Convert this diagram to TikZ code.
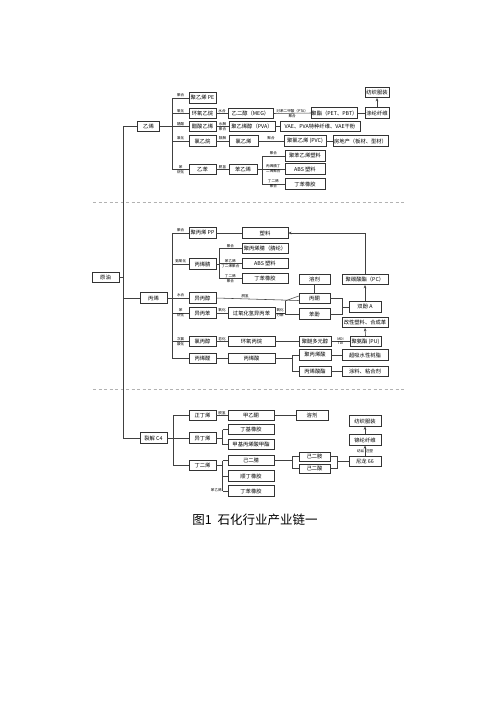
\documentclass[tikz,border=0pt]{standalone}
\usepackage{fontspec}
\setmainfont{Noto Sans CJK SC}
\usetikzlibrary{arrows.meta}
\newcommand\bxn[5]{\node[bx,minimum width=#4pt] (#1) at (#2,#3) {#5};}
\begin{document}
\begin{tikzpicture}[x=1pt,y=-1pt,
  bx/.style={draw=black!80, line width=0.55pt, minimum height=10.5pt, inner sep=0pt, font=\fontsize{5.3}{6}\selectfont, fill=white},
  lbl/.style={font=\fontsize{3.6}{4}\selectfont, inner sep=0.5pt},
  ln/.style={draw=black!75, line width=0.55pt},
  ar/.style={ln, -{Stealth[length=3.2pt,width=2.6pt]}},
  dsh/.style={draw=black!30, line width=0.5pt, dash pattern=on 3pt off 2.5pt}]
\useasboundingbox[fill=white] (0,0) rectangle (496,702);

% dashed separators
\coordinate (dL1) at (93,202.5); \coordinate (dR1) at (405,202.5);
\coordinate (dL2) at (93,389.5); \coordinate (dR2) at (405,389.5);
\draw[dsh] (dL1) -- (dR1);
\draw[dsh] (dL2) -- (dR2);

% ---------------- main nodes
\bxn{yuanyou}{105.5}{277.5}{27}{原油}
\bxn{yixi}{148.5}{126.5}{22}{乙烯}
\bxn{bingxi}{153.5}{298}{27}{丙烯}
\bxn{cfour}{153.5}{438}{27}{裂解 C4}

% ---------------- ethylene
\bxn{pe}{202.5}{98}{27}{聚乙烯 PE}
\bxn{eo}{202.5}{113.5}{27}{环氧乙烷}
\bxn{vac}{202.5}{126.5}{27}{醋酸乙烯}
\bxn{eca}{202.5}{141}{27}{氯乙烷}
\bxn{eb}{202.5}{169.5}{27}{乙苯}
\bxn{meg}{250.5}{113.5}{45}{乙二醇（MEG）}
\bxn{pva}{252}{126.5}{46}{聚乙烯醇（PVA）}
\bxn{vcm}{243.5}{141}{29}{氯乙烯}
\bxn{sm}{243}{169.5}{28}{苯乙烯}
\bxn{pet}{334.5}{113}{45}{聚酯（PET、PBT）}
\bxn{vae}{320}{126.5}{80}{VAE、PVA特种纤维、VAE干粉}
\bxn{pvc}{305}{141}{42}{聚氯乙烯 (PVC)}
\bxn{realty}{360.5}{141}{55}{房地产（板材、型材）}
\bxn{ps}{305}{156}{40}{聚苯乙烯塑料}
\bxn{absa}{305}{169}{40}{ABS 塑料}
\bxn{sbra}{305}{184}{40}{丁苯橡胶}
\bxn{dlfiber}{377}{113}{24}{涤纶纤维}
\bxn{fzfza}{377}{92.5}{24}{纺织服装}

% ---------------- propylene
\bxn{pp}{202.5}{233}{27}{聚丙烯 PP}
\bxn{an}{202.5}{264}{27}{丙烯腈}
\bxn{ipa}{202.5}{298}{27}{异丙醇}
\bxn{cum}{202.5}{313}{27}{异丙苯}
\bxn{cpo}{202.5}{341.5}{27}{氯丙醇}
\bxn{acr}{202.5}{358.5}{27}{丙烯醛}
\bxn{plastic}{265}{233}{46}{塑料}
\bxn{pan}{265}{248.5}{46}{聚丙烯腈（腈纶）}
\bxn{absb}{265}{263.5}{46}{ABS 塑料}
\bxn{nbr}{265}{278.5}{46}{丁苯橡胶}
\bxn{chp}{251.5}{313}{47}{过氧化氢异丙苯}
\bxn{po}{251.5}{341.5}{47}{环氧丙烷}
\bxn{aa}{251.5}{358.5}{47}{丙烯酸}
\bxn{solA}{314.5}{279.5}{31}{溶剂}
\bxn{acetone}{314.5}{298.5}{31}{丙酮}
\bxn{phenol}{314.5}{314}{31}{苯酚}
\bxn{polyether}{315}{341.5}{32}{聚醚多元醇}
\bxn{paa}{315}{355}{32}{聚丙烯酸}
\bxn{acrylate}{315}{371.5}{32}{丙烯酸酯}
\bxn{pc}{365}{279.5}{46}{聚碳酸酯（PC）}
\bxn{bpa}{365}{307}{32}{双酚 A}
\bxn{modp}{365}{322.5}{46}{改性塑料、合成革}
\bxn{pu}{365.5}{341.5}{31}{聚氨酯 (PU)}
\bxn{sap}{365}{355}{46}{超吸水性树脂}
\bxn{coat}{365}{371.5}{46}{涂料、粘合剂}

% ---------------- C4
\bxn{nb}{202.5}{415.5}{27}{正丁烯}
\bxn{ib}{202.5}{438}{27}{异丁烯}
\bxn{bd}{202.5}{465.5}{27}{丁二烯}
\bxn{mek}{251}{415.5}{46}{甲乙酮}
\bxn{iir}{251}{429.5}{46}{丁基橡胶}
\bxn{mma}{251}{444.5}{46}{甲基丙烯酸甲酯}
\bxn{adn}{251}{460.5}{46}{己二腈}
\bxn{br}{251}{476}{46}{顺丁橡胶}
\bxn{sbrb}{251}{491}{46}{丁苯橡胶}
\bxn{solB}{312}{415.5}{32}{溶剂}
\node[bx,minimum width=31pt,minimum height=9pt] (hmda) at (314.5,456.5) {己二胺};
\node[bx,minimum width=31pt,minimum height=9pt] (ada) at (314.5,468.5) {己二酸};
\bxn{fzfzb}{365}{421}{32}{纺织服装}
\bxn{nlfiber}{365}{440}{32}{锦纶纤维}
\bxn{pa66}{365}{461.5}{32}{尼龙 66}

% caption
\node[font=\fontsize{12.5}{14}\selectfont, inner sep=0pt] (cap) at (255,520) {图1\ \ 石化行业产业链一};

% ---------------- trunk
\coordinate (T) at (123,0);
\draw[ln] (yuanyou.east) -- (T |- yuanyou.east);
\draw[ln] (T |- yixi.west) -- (T |- cfour.west);
\draw[ln] (T |- yixi.west) -- (yixi.west);
\draw[ln] (T |- bingxi.west) -- (bingxi.west);
\draw[ln] (T |- cfour.west) -- (cfour.west);

% ---------------- ethylene connectors
\coordinate (eB) at (172.7,0);
\draw[ln] (yixi.east) -- (eB |- yixi.east);
\draw[ln] (eB |- pe.west) -- (eB |- eb.west);
\draw[ln] (eB |- pe.west) -- node[lbl,above]{聚合} (pe.west);
\draw[ln] (eB |- eo.west) -- node[lbl,above]{氧化} (eo.west);
\draw[ln] (eB |- vac.west) -- node[lbl,above]{醋酸} (vac.west);
\draw[ln] (eB |- eca.west) -- node[lbl,above]{氯化} (eca.west);
\draw[ln] (eB |- eb.west) -- node[lbl,above]{苯} node[lbl,below]{烷化} (eb.west);
\draw[ln] (eo.east) -- node[lbl,above]{水合} (meg.west);
\draw[ln] (vac.east) -- node[lbl,above]{水解} node[lbl,below]{聚合} (pva.west);
\draw[ln] (eca.east) -- node[lbl,above]{裂解} (vcm.west);
\draw[ln] (eb.east) -- node[lbl,above]{脱氢} (sm.west);
\draw[ln] (meg.east) -- node[lbl,above]{对苯二甲酸（PTA）} node[lbl,below]{聚合} (pet.west);
\draw[ln] (pet.east) -- (dlfiber.west);
\draw[ar] (dlfiber.north) -- (fzfza.south);
\draw[ln] (pva.east) -- (vae.west);
\draw[ln] (vcm.east) -- node[lbl,above]{聚合} (pvc.west);
\draw[ln] (pvc.east) -- (realty.west);
\coordinate (sB) at (262,0);
\draw[ln] (sm.east) -- (sB |- sm.east);
\draw[ln] (sB |- ps.west) -- (sB |- sbra.west);
\draw[ln] (sB |- ps.west) -- node[lbl,above]{聚合} (ps.west);
\draw[ln] (sB |- absa.west) -- node[lbl,above]{丙烯腈丁} node[lbl,below]{二烯聚合} (absa.west);
\draw[ln] (sB |- sbra.west) -- node[lbl,above]{丁二烯} node[lbl,below]{聚合} (sbra.west);

% ---------------- propylene connectors
\coordinate (pB) at (172.7,0);
\draw[ln] (bingxi.east) -- (pB |- bingxi.east);
\draw[ln] (pB |- pp.west) -- (pB |- acr.west);
\draw[ln] (pB |- pp.west) -- node[lbl,above]{聚合} (pp.west);
\draw[ln] (pB |- an.west) -- node[lbl,above]{氨氧化} (an.west);
\draw[ln] (pB |- ipa.west) -- node[lbl,above]{水合} (ipa.west);
\draw[ln] (pB |- cum.west) -- node[lbl,above]{苯} node[lbl,below]{烷化} (cum.west);
\draw[ln] (pB |- cpo.west) -- node[lbl,above]{次氯} node[lbl,below]{酸化} (cpo.west);
\draw[ln] (pB |- acr.west) -- (acr.west);
\draw[ln] (pp.east) -- (plastic.west);
\coordinate (aB) at (219,0);
\draw[ln] (an.east) -- (aB |- an.east);
\draw[ln] (aB |- pan.west) -- (aB |- nbr.west);
\draw[ln] (aB |- pan.west) -- node[lbl,above]{聚合} (pan.west);
\draw[ln] (aB |- absb.west) -- node[lbl,above]{苯乙烯} node[lbl,below]{丁二烯聚合} (absb.west);
\draw[ln] (aB |- nbr.west) -- node[lbl,above]{丁二烯} node[lbl,below]{聚合} (nbr.west);
\draw[ln] (ipa.east) -- node[lbl,above,pos=0.35]{脱氢} ([yshift=-2pt]acetone.west);
\draw[ln] (cum.east) -- node[lbl,above]{氧化} (chp.west);
\coordinate (cB) at (285,0);
\draw[ln] (chp.east) -- node[lbl,above]{氧化} node[lbl,below]{分解} (cB |- chp.east);
\draw[ln] (cB |- acetone.west) ++(0,2.5) coordinate (cBt) -- (cB |- phenol.west);
\draw[ln] (cBt) -- ([yshift=2.5pt]acetone.west);
\draw[ln] (cB |- phenol.west) -- (phenol.west);
\draw[ln] (solA.south) -- (acetone.north);
\coordinate (bB) at (342,0);
\draw[ln] (acetone.east) -- (bB |- acetone.east) -- (bB |- phenol.east) -- (phenol.east);
\draw[ln] (bB |- bpa.west) -- (bpa.west);
\draw[ar] (bpa.north) -- (pc.south);
\draw[ar] (pc.north) |- (plastic.east);
\draw[ln] (cpo.east) -- node[lbl,above]{皂化} (po.west);
\draw[ln] (po.east) -- (polyether.west);
\draw[ln] (polyether.east) -- node[lbl,above]{MDI} node[lbl,below]{TDI} (pu.west);
\draw[ar] (pu.north) -- (modp.south);
\draw[ln] (acr.east) -- (aa.west);
\coordinate (rB) at (292,0);
\draw[ln] (aa.east) -- (rB |- aa.east);
\draw[ln] (rB |- paa.west) -- (rB |- acrylate.west);
\draw[ln] (rB |- paa.west) -- (paa.west);
\draw[ln] (rB |- acrylate.west) -- (acrylate.west);
\draw[ln] (paa.east) -- (sap.west);
\draw[ln] (acrylate.east) -- (coat.west);

% ---------------- C4 connectors
\coordinate (kB) at (173,0);
\draw[ln] (cfour.east) -- (kB |- cfour.east);
\draw[ln] (kB |- nb.west) -- (kB |- bd.west);
\draw[ln] (kB |- nb.west) -- (nb.west);
\draw[ln] (kB |- ib.west) -- (ib.west);
\draw[ln] (kB |- bd.west) -- (bd.west);
\draw[ln] (nb.east) -- node[lbl,above]{脱氢} (mek.west);
\draw[ln] (mek.east) -- (solB.west);
\coordinate (iB) at (222.7,0);
\draw[ln] (ib.east) -- (iB |- ib.east);
\draw[ln] (iB |- iir.west) -- (iB |- mma.west);
\draw[ln] (iB |- iir.west) -- (iir.west);
\draw[ln] (iB |- mma.west) -- (mma.west);
\draw[ln] (bd.east) -- (iB |- bd.east);
\draw[ln] (iB |- adn.west) -- (iB |- sbrb.west);
\draw[ln] (iB |- adn.west) -- (adn.west);
\draw[ln] (iB |- br.west) -- (br.west);
\draw[ln] (iB |- sbrb.west) -- (sbrb.west);
\node[lbl,anchor=east] (styl) at ([xshift=-0.3pt,yshift=1pt]iB |- sbrb.west) {苯乙烯};
\coordinate (hL) at (292,0);
\coordinate (hR) at (337,0);
\draw[ln] (adn.east) -- (hL |- adn.east);
\draw[ln] (hL |- hmda.west) -- (hL |- ada.west);
\draw[ln] (hL |- hmda.west) -- (hmda.west);
\draw[ln] (hL |- ada.west) -- (ada.west);
\draw[ln] (hmda.east) -- (hR |- hmda.east) -- (hR |- ada.east) -- (ada.east);
\draw[ln] (hR |- pa66.west) -- (pa66.west);
\draw[ar] (pa66.north) -- node[lbl,left]{纺丝} node[lbl,right]{注塑} (nlfiber.south);
\draw[ar] (nlfiber.north) -- (fzfzb.south);
\end{tikzpicture}
\end{document}
